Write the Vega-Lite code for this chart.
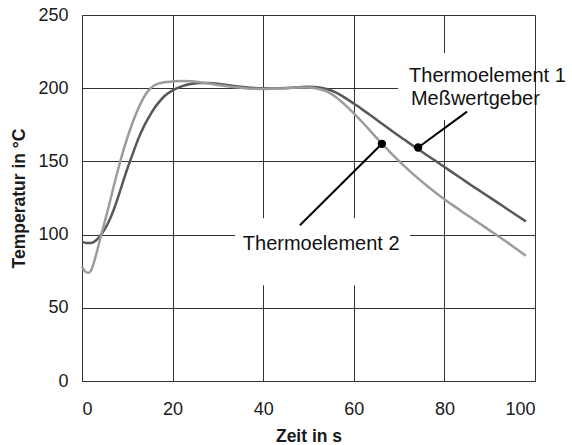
{
  "$schema": "https://vega.github.io/schema/vega-lite/v6.json",
  "width": 453,
  "height": 366,
  "autosize": {"type": "none"},
  "padding": {"left": 82, "top": 15, "right": 37, "bottom": 64},
  "background": "white",
  "config": {
    "font": "Liberation Sans",
    "view": {"stroke": null},
    "axis": {
      "grid": true,
      "gridColor": "#333333",
      "gridWidth": 1,
      "gridOpacity": 1,
      "domainColor": "#333333",
      "domainWidth": 1,
      "ticks": false,
      "tickSize": 0,
      "labelFontSize": 18,
      "labelColor": "#1a1a1a",
      "titleFontSize": 17.5,
      "titleFontWeight": "bold",
      "titleColor": "#1a1a1a"
    }
  },
  "datasets": {
    "curves": [
      {"t": 0, "temp": 95, "s": "Thermoelement 1"},
      {"t": 1, "temp": 94.3, "s": "Thermoelement 1"},
      {"t": 2, "temp": 94.2, "s": "Thermoelement 1"},
      {"t": 3, "temp": 95.8, "s": "Thermoelement 1"},
      {"t": 4, "temp": 99, "s": "Thermoelement 1"},
      {"t": 5, "temp": 103.5, "s": "Thermoelement 1"},
      {"t": 6, "temp": 109.5, "s": "Thermoelement 1"},
      {"t": 7, "temp": 117, "s": "Thermoelement 1"},
      {"t": 8, "temp": 126, "s": "Thermoelement 1"},
      {"t": 9, "temp": 135.5, "s": "Thermoelement 1"},
      {"t": 10, "temp": 145, "s": "Thermoelement 1"},
      {"t": 11, "temp": 153.5, "s": "Thermoelement 1"},
      {"t": 12, "temp": 162, "s": "Thermoelement 1"},
      {"t": 13, "temp": 169.5, "s": "Thermoelement 1"},
      {"t": 14, "temp": 176, "s": "Thermoelement 1"},
      {"t": 15, "temp": 181.5, "s": "Thermoelement 1"},
      {"t": 16, "temp": 186.5, "s": "Thermoelement 1"},
      {"t": 17, "temp": 190.5, "s": "Thermoelement 1"},
      {"t": 18, "temp": 194, "s": "Thermoelement 1"},
      {"t": 19, "temp": 196.5, "s": "Thermoelement 1"},
      {"t": 20, "temp": 198.5, "s": "Thermoelement 1"},
      {"t": 22, "temp": 201.2, "s": "Thermoelement 1"},
      {"t": 24, "temp": 202.8, "s": "Thermoelement 1"},
      {"t": 26, "temp": 203.6, "s": "Thermoelement 1"},
      {"t": 28, "temp": 203.5, "s": "Thermoelement 1"},
      {"t": 30, "temp": 203, "s": "Thermoelement 1"},
      {"t": 32, "temp": 202.2, "s": "Thermoelement 1"},
      {"t": 34, "temp": 201.3, "s": "Thermoelement 1"},
      {"t": 36, "temp": 200.6, "s": "Thermoelement 1"},
      {"t": 38, "temp": 200.1, "s": "Thermoelement 1"},
      {"t": 40, "temp": 199.9, "s": "Thermoelement 1"},
      {"t": 42, "temp": 199.8, "s": "Thermoelement 1"},
      {"t": 44, "temp": 200, "s": "Thermoelement 1"},
      {"t": 46, "temp": 200.3, "s": "Thermoelement 1"},
      {"t": 48, "temp": 200.7, "s": "Thermoelement 1"},
      {"t": 50, "temp": 201, "s": "Thermoelement 1"},
      {"t": 52, "temp": 200.7, "s": "Thermoelement 1"},
      {"t": 54, "temp": 199.5, "s": "Thermoelement 1"},
      {"t": 56, "temp": 197.2, "s": "Thermoelement 1"},
      {"t": 58, "temp": 193.6, "s": "Thermoelement 1"},
      {"t": 60, "temp": 189.5, "s": "Thermoelement 1"},
      {"t": 62, "temp": 185.2, "s": "Thermoelement 1"},
      {"t": 64, "temp": 180.8, "s": "Thermoelement 1"},
      {"t": 66, "temp": 176.3, "s": "Thermoelement 1"},
      {"t": 68, "temp": 171.8, "s": "Thermoelement 1"},
      {"t": 70, "temp": 167.3, "s": "Thermoelement 1"},
      {"t": 72, "temp": 163, "s": "Thermoelement 1"},
      {"t": 74, "temp": 158.8, "s": "Thermoelement 1"},
      {"t": 76, "temp": 154.6, "s": "Thermoelement 1"},
      {"t": 78, "temp": 150.4, "s": "Thermoelement 1"},
      {"t": 80, "temp": 146.2, "s": "Thermoelement 1"},
      {"t": 82, "temp": 142, "s": "Thermoelement 1"},
      {"t": 84, "temp": 137.8, "s": "Thermoelement 1"},
      {"t": 86, "temp": 133.6, "s": "Thermoelement 1"},
      {"t": 88, "temp": 129.5, "s": "Thermoelement 1"},
      {"t": 90, "temp": 125.4, "s": "Thermoelement 1"},
      {"t": 92, "temp": 121.3, "s": "Thermoelement 1"},
      {"t": 94, "temp": 117.2, "s": "Thermoelement 1"},
      {"t": 96, "temp": 113.1, "s": "Thermoelement 1"},
      {"t": 98, "temp": 109, "s": "Thermoelement 1"},
      {"t": 0, "temp": 78, "s": "Thermoelement 2"},
      {"t": 0.5, "temp": 75.5, "s": "Thermoelement 2"},
      {"t": 1, "temp": 74.2, "s": "Thermoelement 2"},
      {"t": 1.5, "temp": 74, "s": "Thermoelement 2"},
      {"t": 2, "temp": 75.5, "s": "Thermoelement 2"},
      {"t": 3, "temp": 85, "s": "Thermoelement 2"},
      {"t": 4, "temp": 97, "s": "Thermoelement 2"},
      {"t": 5, "temp": 108.5, "s": "Thermoelement 2"},
      {"t": 6, "temp": 120.5, "s": "Thermoelement 2"},
      {"t": 7, "temp": 133, "s": "Thermoelement 2"},
      {"t": 8, "temp": 145, "s": "Thermoelement 2"},
      {"t": 9, "temp": 156, "s": "Thermoelement 2"},
      {"t": 10, "temp": 166, "s": "Thermoelement 2"},
      {"t": 11, "temp": 175, "s": "Thermoelement 2"},
      {"t": 12, "temp": 183, "s": "Thermoelement 2"},
      {"t": 13, "temp": 190, "s": "Thermoelement 2"},
      {"t": 14, "temp": 195.5, "s": "Thermoelement 2"},
      {"t": 15, "temp": 199.5, "s": "Thermoelement 2"},
      {"t": 16, "temp": 202, "s": "Thermoelement 2"},
      {"t": 17, "temp": 203.3, "s": "Thermoelement 2"},
      {"t": 18, "temp": 204, "s": "Thermoelement 2"},
      {"t": 20, "temp": 204.6, "s": "Thermoelement 2"},
      {"t": 22, "temp": 205, "s": "Thermoelement 2"},
      {"t": 24, "temp": 204.8, "s": "Thermoelement 2"},
      {"t": 26, "temp": 204.1, "s": "Thermoelement 2"},
      {"t": 28, "temp": 203.2, "s": "Thermoelement 2"},
      {"t": 30, "temp": 202.2, "s": "Thermoelement 2"},
      {"t": 32, "temp": 201.3, "s": "Thermoelement 2"},
      {"t": 34, "temp": 200.6, "s": "Thermoelement 2"},
      {"t": 36, "temp": 200, "s": "Thermoelement 2"},
      {"t": 38, "temp": 199.6, "s": "Thermoelement 2"},
      {"t": 40, "temp": 199.5, "s": "Thermoelement 2"},
      {"t": 42, "temp": 199.6, "s": "Thermoelement 2"},
      {"t": 44, "temp": 199.8, "s": "Thermoelement 2"},
      {"t": 46, "temp": 200.1, "s": "Thermoelement 2"},
      {"t": 48, "temp": 200.4, "s": "Thermoelement 2"},
      {"t": 50, "temp": 200.4, "s": "Thermoelement 2"},
      {"t": 52, "temp": 199.6, "s": "Thermoelement 2"},
      {"t": 54, "temp": 197.8, "s": "Thermoelement 2"},
      {"t": 56, "temp": 194, "s": "Thermoelement 2"},
      {"t": 58, "temp": 188.8, "s": "Thermoelement 2"},
      {"t": 60, "temp": 182.8, "s": "Thermoelement 2"},
      {"t": 62, "temp": 176.4, "s": "Thermoelement 2"},
      {"t": 64, "temp": 169.6, "s": "Thermoelement 2"},
      {"t": 66, "temp": 162.8, "s": "Thermoelement 2"},
      {"t": 68, "temp": 156.3, "s": "Thermoelement 2"},
      {"t": 70, "temp": 150.2, "s": "Thermoelement 2"},
      {"t": 72, "temp": 144.4, "s": "Thermoelement 2"},
      {"t": 74, "temp": 138.9, "s": "Thermoelement 2"},
      {"t": 76, "temp": 133.7, "s": "Thermoelement 2"},
      {"t": 78, "temp": 128.8, "s": "Thermoelement 2"},
      {"t": 80, "temp": 124.2, "s": "Thermoelement 2"},
      {"t": 82, "temp": 119.8, "s": "Thermoelement 2"},
      {"t": 84, "temp": 115.5, "s": "Thermoelement 2"},
      {"t": 86, "temp": 111.3, "s": "Thermoelement 2"},
      {"t": 88, "temp": 107.1, "s": "Thermoelement 2"},
      {"t": 90, "temp": 102.9, "s": "Thermoelement 2"},
      {"t": 92, "temp": 98.7, "s": "Thermoelement 2"},
      {"t": 94, "temp": 94.4, "s": "Thermoelement 2"},
      {"t": 96, "temp": 90, "s": "Thermoelement 2"},
      {"t": 98, "temp": 85.5, "s": "Thermoelement 2"}
    ],
    "boxes": [
      {"t": 33.8, "t2": 72.4, "temp": 65.4, "temp2": 111.2},
      {"t": 69.8, "t2": 100, "temp": 178.2, "temp2": 224}
    ],
    "leaders": [
      {"t": 74.2, "temp": 159.5, "t2": 85, "temp2": 184},
      {"t": 66.2, "temp": 162, "t2": 48.1, "temp2": 106.4}
    ],
    "labels": [
      {"t": 35.5, "temp": 89.3, "label": "Thermoelement 2"},
      {"t": 72.2, "temp": 204, "label": "Thermoelement 1"},
      {"t": 72.6, "temp": 188.4, "label": "Meßwertgeber"}
    ]
  },
  "layer": [
    {
      "data": {"name": "boxes"},
      "mark": {"type": "rect", "fill": "white", "stroke": null},
      "encoding": {
        "x": {
          "field": "t", "type": "quantitative",
          "scale": {"domain": [0, 100], "nice": false},
          "axis": {"title": "Zeit in s", "values": [0, 20, 40, 60, 80, 100], "labelPadding": 19, "titlePadding": 9}
        },
        "x2": {"field": "t2"},
        "y": {
          "field": "temp", "type": "quantitative",
          "scale": {"domain": [0, 250], "nice": false},
          "axis": {"title": "Temperatur in °C", "values": [0, 50, 100, 150, 200, 250], "labelPadding": 14, "titlePadding": 9}
        },
        "y2": {"field": "temp2"}
      }
    },
    {
      "data": {"name": "curves"},
      "mark": {"type": "line", "strokeWidth": 2.5, "interpolate": "monotone"},
      "encoding": {
        "x": {"field": "t", "type": "quantitative", "scale": {"domain": [0, 100], "nice": false}, "title": "Zeit in s"},
        "y": {"field": "temp", "type": "quantitative", "scale": {"domain": [0, 250], "nice": false}, "title": "Temperatur in °C"},
        "color": {
          "field": "s", "type": "nominal",
          "scale": {"domain": ["Thermoelement 1", "Thermoelement 2"], "range": ["#585858", "#9c9c9c"]},
          "legend": null
        },
        "order": {"field": "t", "type": "quantitative"}
      }
    },
    {
      "data": {"name": "leaders"},
      "mark": {"type": "rule", "color": "black", "strokeWidth": 2},
      "encoding": {
        "x": {"field": "t", "type": "quantitative", "scale": {"domain": [0, 100], "nice": false}, "title": "Zeit in s"},
        "x2": {"field": "t2"},
        "y": {"field": "temp", "type": "quantitative", "scale": {"domain": [0, 250], "nice": false}, "title": "Temperatur in °C"},
        "y2": {"field": "temp2"}
      }
    },
    {
      "data": {"name": "leaders"},
      "mark": {"type": "point", "filled": true, "color": "black", "size": 70, "opacity": 1},
      "encoding": {
        "x": {"field": "t", "type": "quantitative", "scale": {"domain": [0, 100], "nice": false}, "title": "Zeit in s"},
        "y": {"field": "temp", "type": "quantitative", "scale": {"domain": [0, 250], "nice": false}, "title": "Temperatur in °C"}
      }
    },
    {
      "data": {"name": "labels"},
      "mark": {"type": "text", "align": "left", "baseline": "alphabetic", "fontSize": 20, "color": "#111111"},
      "encoding": {
        "x": {"field": "t", "type": "quantitative", "scale": {"domain": [0, 100], "nice": false}, "title": "Zeit in s"},
        "y": {"field": "temp", "type": "quantitative", "scale": {"domain": [0, 250], "nice": false}, "title": "Temperatur in °C"},
        "text": {"field": "label"}
      }
    }
  ]
}
